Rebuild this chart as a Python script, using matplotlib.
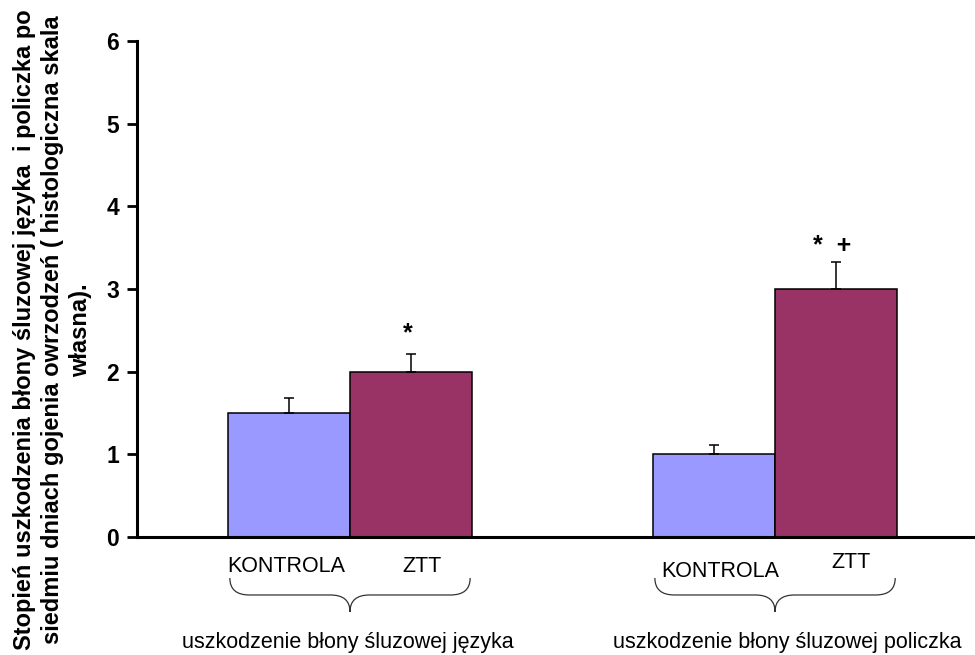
import matplotlib
matplotlib.use("Agg")
import matplotlib.pyplot as plt
from matplotlib.path import Path
from matplotlib.patches import PathPatch
import matplotlib.transforms as mtransforms

plt.rcParams['font.family'] = ['Liberation Sans', 'DejaVu Sans']

# data
groups = ["uszkodzenie błony śluzowej języka", "uszkodzenie błony śluzowej policzka"]
treatments = ["KONTROLA", "ZTT"]
means_kontrola = [1.5, 1.0]
means_ztt = [2.0, 3.0]
sem_kontrola = [0.18, 0.11]
sem_ztt = [0.21, 0.33]
marks_ztt = ["*", "*  +"]
mark_heights = [2.46, 3.52]
y_ticks = [0, 1, 2, 3, 4, 5, 6]
ylabel = ("Stopień uszkodzenia błony śluzowej języka  i policzka po\n"
          "siedmiu dniach gojenia owrzodzeń ( histologiczna skala\n"
          "własna).")

col_k = "#9999FF"
col_z = "#993366"

fig = plt.figure(figsize=(9.75, 6.55), dpi=100)
ax = fig.add_axes([0.1405, 0.1802, 0.8595, 0.757])

centers = [1.746, 5.23]
w = 1.0
xk = [c - w / 2 for c in centers]
xz = [c + w / 2 for c in centers]

ax.bar(xk, means_kontrola, width=w, color=col_k, edgecolor="black", linewidth=1.1, zorder=2)
ax.bar(xz, means_ztt, width=w, color=col_z, edgecolor="black", linewidth=1.1, zorder=2)
ax.errorbar(xk, means_kontrola, yerr=[[0] * 2, sem_kontrola], fmt="none",
            ecolor="black", elinewidth=1.1, capsize=3.5, capthick=1.1, zorder=3)
ax.errorbar(xz, means_ztt, yerr=[[0] * 2, sem_ztt], fmt="none",
            ecolor="black", elinewidth=1.1, capsize=3.5, capthick=1.1, zorder=3)

for x, y, m in zip(xz, mark_heights, marks_ztt):
    ax.text(x - 0.03, y, m, ha="center", va="center", fontsize=18, fontweight="bold")

ax.set_xlim(0, 6.869)
ax.set_ylim(0, 6)
ax.set_yticks(y_ticks)
ax.set_yticklabels([str(t) for t in y_ticks], fontsize=16.5, fontweight="bold")
ax.tick_params(axis="y", direction="out", length=7, width=2, pad=6)
ax.set_xticks([])
for s in ("top", "right"):
    ax.spines[s].set_visible(False)
ax.spines["left"].set_linewidth(2.2)
ax.spines["bottom"].set_linewidth(2.2)

trans = mtransforms.blended_transform_factory(ax.transData, ax.transAxes)

# treatment labels under each bar
k_off = [-0.025, 0.05]
z_off = [0.09, 0.12]
k_y = [-0.0706, -0.0806]
z_y = [-0.0706, -0.0625]
for i in range(2):
    ax.text(xk[i] + k_off[i], k_y[i], treatments[0], transform=trans, ha="center",
            va="baseline", fontsize=15.5, clip_on=False)
    ax.text(xz[i] + z_off[i], z_y[i], treatments[1], transform=trans, ha="center",
            va="baseline", fontsize=15.5, clip_on=False)

# curly braces grouping the pairs
y_top, y_mid, y_tip = -0.0827, -0.117, -0.151
for c in centers:
    left, right = c - w + 0.015, c + w - 0.015
    d = 0.16
    verts = [
        (left, y_top), (left, y_mid), (left + d, y_mid),
        (c - d, y_mid),
        (c, y_mid), (c, y_tip),
        (c, y_mid), (c + d, y_mid),
        (right - d, y_mid),
        (right, y_mid), (right, y_top),
    ]
    codes = [Path.MOVETO, Path.CURVE3, Path.CURVE3, Path.LINETO,
             Path.CURVE3, Path.CURVE3, Path.CURVE3, Path.CURVE3,
             Path.LINETO, Path.CURVE3, Path.CURVE3]
    patch = PathPatch(Path(verts, codes), transform=trans, fill=False,
                      edgecolor="#333333", linewidth=0.9, clip_on=False)
    ax.add_patch(patch)

g_off = [-0.02, 0.1]
for c, g, o in zip(centers, groups, g_off):
    ax.text(c + o, -0.224, g, transform=trans, ha="center", va="baseline",
            fontsize=15.5, clip_on=False)

fig.text(0.054, 0.496, ylabel, rotation=90, ha="center", va="center",
         fontsize=17, fontweight="bold", multialignment="center", linespacing=1.3)

fig.savefig("out.png", dpi=100)
